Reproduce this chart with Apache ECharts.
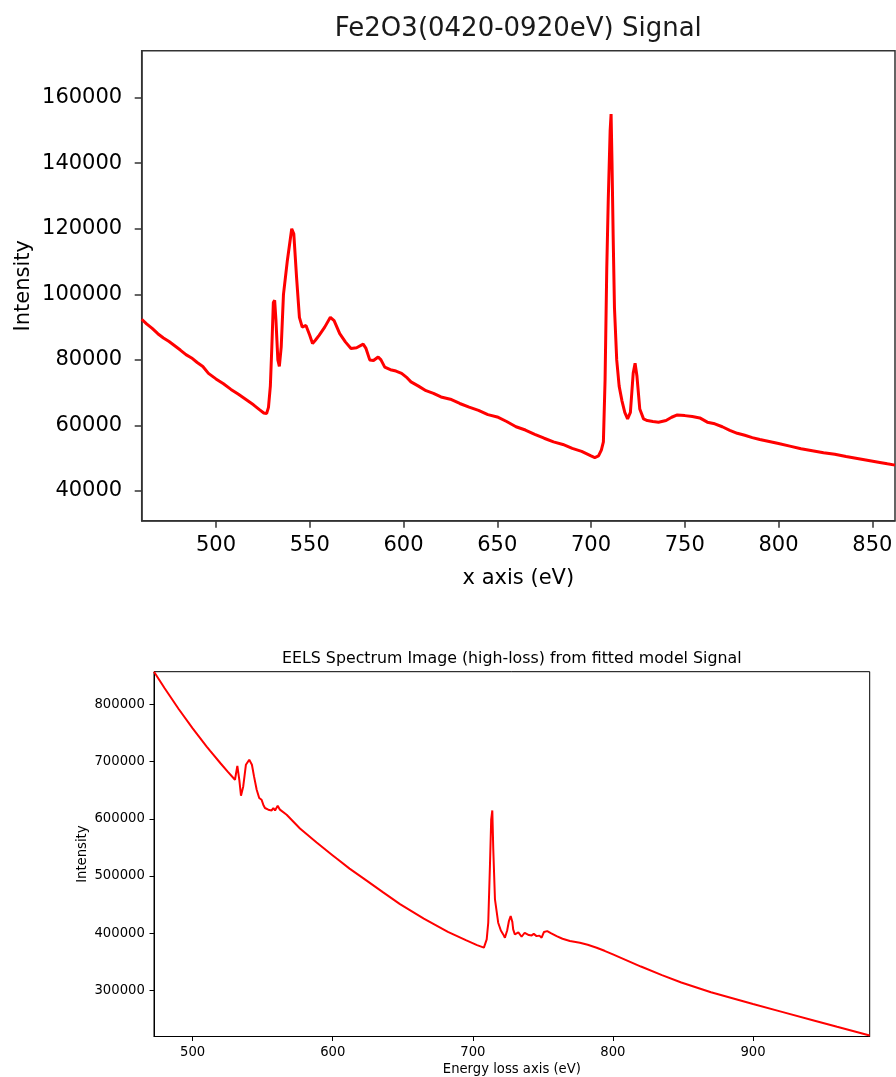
<!DOCTYPE html>
<html>
<head>
<meta charset="utf-8">
<script src="https://cdn.jsdelivr.net/npm/echarts@6/dist/echarts.min.js"></script>
<style>
html,body{margin:0;padding:0;background:#fff;}
#chart{width:896px;height:1077px;}
</style>
</head>
<body>
<div id="chart"></div>
<script>
// ---- Top panel: Fe2O3(0420-0920eV) Signal ----
const topTitle = "Fe2O3(0420-0920eV) Signal";
const topEnergy = [460.4,463,466,469,472,475,478,481,484,487,490,493,496,500,504,508,512,516,520,523,525.5,527,528,529,529.8,530.6,531.3,532,533,533.8,534.8,536,538,540.4,541.5,543,544.5,546,548,550,551.5,553,555,558,561,563,566,569,572,575,578.5,580,582,584,586.5,588,590,593,596,599,602,604,608,612,616,620,625,630,635,640,645,650,655,660,665,670,675,680,685,690,695,700,702,704,705.5,706.6,707.5,708.4,709.2,710.2,710.7,711.2,711.8,712.5,713.7,715,716.5,718,719.5,721,722.5,723.5,724.5,726,728,730,733,736,740,743,746,750,754,758,762,766,770,774,778,782,786,790,795,800,806,812,818,824,830,836,842,848,854,858,862.1];
const topIntensity = [92400,91000,89600,88000,86700,85600,84300,83000,81600,80600,79200,78000,75900,74200,72700,71000,69500,67900,66300,64900,63800,63600,65500,72000,84000,97500,98200,92000,80000,78000,84000,100000,110000,120000,118500,105000,93000,90000,90500,87500,85000,86000,87500,90000,93000,92000,88000,85500,83500,83700,84800,83500,80000,79800,80900,80000,77800,77000,76600,75900,74500,73300,72000,70600,69800,68700,68000,66700,65600,64600,63300,62600,61200,59600,58600,57300,56100,55000,54200,53000,52100,50700,50200,50700,52500,55000,74000,108000,129000,150000,155000,140000,118000,96000,80000,72000,67500,64000,62000,64000,76000,79000,75000,65000,62000,61500,61200,61000,61500,62500,63200,63000,62700,62300,61000,60500,59600,58500,57600,57000,56300,55700,55100,54500,53700,52900,52300,51700,51200,50500,49900,49300,48700,48300,47900];
const topXTicks = [500,550,600,650,700,750,800,850];
const topYTicks = [40000,60000,80000,100000,120000,140000,160000];
const topXName = "x axis (eV)";
const topYName = "Intensity";

// ---- Bottom panel: EELS Spectrum Image (high-loss) from fitted model Signal ----
const botTitle = "EELS Spectrum Image (high-loss) from fitted model Signal";
const botEnergy = [472.4,480,490,500,510,512.5,520,525,530.2,531.9,533.3,534.5,536.1,538,539.2,540.4,541.4,542.3,543.8,545.7,547.5,549.2,550.4,551.6,554,555.2,556.4,557.6,558.8,560.7,562.3,567.1,576.6,588.5,600,602.8,612,624.2,636,648,665,682.2,695,703,707.9,709.9,711,712.2,713.1,713.9,714.6,715.8,718.1,720,721.7,722.9,724.5,725.8,727,728.2,728.8,730,731.3,732.5,733.6,734.8,736,737,738.4,740,742,743.5,745.5,747.5,749.1,750.2,750.8,753.1,756,759.8,764,769.3,776.4,782,788.4,794,800,820,835,848.8,870,900,920,944,960,983.3];
const botIntensity = [856800,827800,791700,757900,726100,718400,696500,682300,668100,692500,668100,640300,656500,694300,697200,703000,704200,694300,674000,650700,636300,633300,624600,618800,615900,618800,614600,618800,614600,622800,615900,607100,583000,558500,536000,530500,513000,492000,471500,451000,425500,402500,388000,379500,375000,389400,418500,517100,598400,614600,546200,459100,418500,405000,398100,392400,405000,422000,430000,420000,406800,398000,396400,401500,401000,394000,395100,401000,399800,397000,396400,399000,395100,396000,392400,395000,402400,403900,400000,395100,390500,386500,383600,380000,374900,369500,363200,342000,327000,314200,297000,276500,263300,247500,236800,221500];
const botXTicks = [500,600,700,800,900];
const botYTicks = [300000,400000,500000,600000,700000,800000];
const botXName = "Energy loss axis (eV)";
const botYName = "Intensity";

const FONT = "DejaVu Sans";
const TXT = "#000";

function zip(a, b){ return a.map((v,i)=>[v,b[i]]); }

const chart = echarts.init(document.getElementById('chart'), null, {renderer:'canvas'});

function axisCfg(gridIndex, min, max, ticks, name, fs, tickLen, labelMargin, nameGap, lineW, lineC, labelPad){
  return {
    type:'value', gridIndex, min, max, name, nameLocation:'middle', nameGap,
    nameMoveOverlap:false,
    nameTextStyle:{fontFamily:FONT, fontSize:fs, color:TXT},
    axisLine:{show:true, onZero:false, lineStyle:{color:lineC, width:lineW}},
    axisTick:{show:true, length:tickLen, customValues:ticks, lineStyle:{color:lineC, width:lineW}},
    axisLabel:{show:true, customValues:ticks, margin:labelMargin, fontFamily:FONT, fontSize:fs, color:TXT,
               padding:labelPad, formatter:(v)=>String(v)},
    splitLine:{show:false}
  };
}

const option = {
  animation:false,
  backgroundColor:'#fff',
  title:[
    {text:topTitle, left:518.3, top:16.5, textAlign:'center', padding:0,
     textStyle:{fontFamily:FONT, fontSize:26, fontWeight:'normal', color:'#1a1a1a'}},
    {text:botTitle, left:511.8, top:651.2, textAlign:'center', padding:0,
     textStyle:{fontFamily:FONT, fontSize:15.8, fontWeight:'normal', color:TXT}}
  ],
  grid:[
    {left:141.7, top:50.7, width:753.3, height:470, show:true, borderColor:'#333', borderWidth:1.5, backgroundColor:'transparent'},
    {left:154, top:671.7, width:715.7, height:365.6, show:true, borderColor:'#000', borderWidth:1, backgroundColor:'transparent'}
  ],
  xAxis:[
    axisCfg(0, 460.4, 862.1, topXTicks, topXName, 21, 7, 14.5, 47, 1.5, '#333', 0),
    axisCfg(1, 472.4, 983.3, botXTicks, botXName, 13.2, 4.5, 10, 26.5, 1, '#000', 0)
  ],
  yAxis:[
    axisCfg(0, 30938, 174340, topYTicks, topYName, 21, 7, 19.5, 108, 1.5, '#333', [3,0,0,0]),
    axisCfg(1, 219860, 856800, botYTicks, botYName, 13.2, 4.5, 9.2, 65, 1, '#000', [2,0,0,0])
  ],
  series:[
    {type:'line', xAxisIndex:0, yAxisIndex:0, data:zip(topEnergy, topIntensity), showSymbol:false, symbol:'none',
     lineStyle:{color:'#ff0000', width:3}, clip:true},
    {type:'line', xAxisIndex:1, yAxisIndex:1, data:zip(botEnergy, botIntensity), showSymbol:false, symbol:'none',
     lineStyle:{color:'#ff0000', width:2}, clip:true}
  ]
};
chart.setOption(option);
</script>
</body>
</html>
